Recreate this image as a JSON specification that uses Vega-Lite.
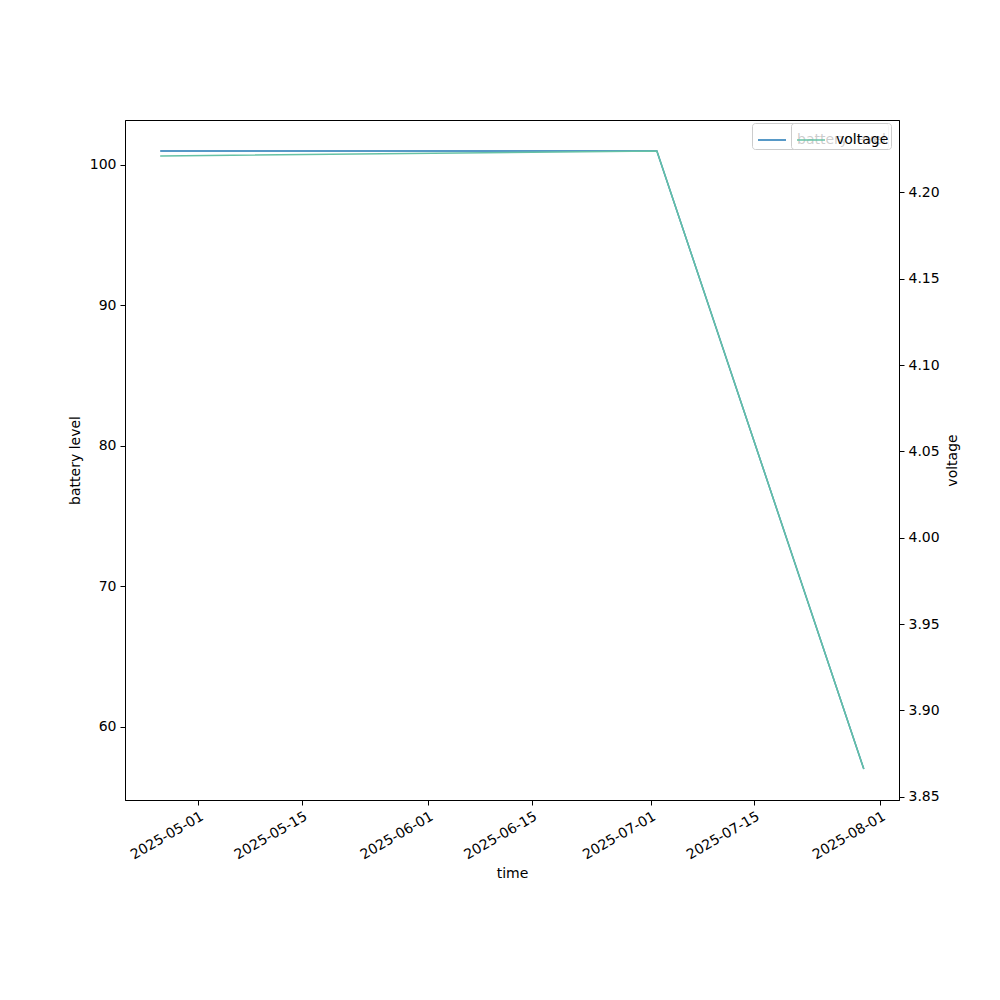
{
  "$schema": "https://vega.github.io/schema/vega-lite/v6.json",
  "width": 774,
  "height": 680,
  "autosize": {"type": "none"},
  "padding": {"left": 125, "top": 120, "right": 101, "bottom": 200},
  "background": "white",
  "config": {
    "font": "DejaVu Sans",
    "view": {"stroke": "black", "strokeWidth": 1},
    "axis": {
      "grid": false,
      "domainColor": "black",
      "tickColor": "black",
      "labelColor": "black",
      "titleColor": "black",
      "labelFont": "DejaVu Sans",
      "titleFont": "DejaVu Sans",
      "labelFontSize": 14,
      "titleFontSize": 14,
      "titleFontWeight": "normal",
      "tickSize": 5,
      "labelPadding": 4
    },
    "legend": {
      "labelFont": "DejaVu Sans",
      "labelFontSize": 14,
      "labelColor": "black"
    }
  },
  "data": {
    "values": [
      {"time": "2025-04-25T20:00:00", "battery": 101, "voltage": 4.221},
      {"time": "2025-07-01T20:00:00", "battery": 101, "voltage": 4.224},
      {"time": "2025-07-29T18:00:00", "battery": 57, "voltage": 3.866}
    ]
  },
  "encoding": {
    "x": {
      "field": "time",
      "type": "temporal",
      "scale": {
        "domain": [
          {"year": 2025, "month": 4, "date": 21, "hours": 2, "minutes": 6},
          {"year": 2025, "month": 8, "date": 3, "hours": 11, "minutes": 54}
        ]
      },
      "axis": {
        "title": "time",
        "format": "%Y-%m-%d",
        "labelAngle": -30,
        "labelAlign": "right",
        "labelBaseline": "top",
        "titlePadding": 5,
        "values": [
          {"year": 2025, "month": 5, "date": 1},
          {"year": 2025, "month": 5, "date": 15},
          {"year": 2025, "month": 6, "date": 1},
          {"year": 2025, "month": 6, "date": 15},
          {"year": 2025, "month": 7, "date": 1},
          {"year": 2025, "month": 7, "date": 15},
          {"year": 2025, "month": 8, "date": 1}
        ]
      }
    }
  },
  "layer": [
    {
      "mark": {"type": "line", "strokeWidth": 1.5},
      "encoding": {
        "y": {
          "field": "battery",
          "type": "quantitative",
          "scale": {"domain": [54.8, 103.2], "nice": false, "zero": false},
          "axis": {"title": "battery level", "orient": "left", "values": [60, 70, 80, 90, 100], "titlePadding": 7}
        },
        "color": {
          "datum": "battery level",
          "scale": {"range": ["#1f77b4"]},
          "legend": {
            "title": null,
            "orient": "none",
            "legendX": 627,
            "legendY": 3,
            "symbolType": "stroke",
            "symbolSize": 784,
            "symbolStrokeWidth": 1.5,
            "symbolOffset": 3,
            "labelOffset": 10,
            "fillColor": "rgba(255,255,255,0.8)",
            "strokeColor": "#cccccc",
            "cornerRadius": 3,
            "padding": 2
          }
        }
      }
    },
    {
      "mark": {"type": "line", "strokeWidth": 1.5},
      "encoding": {
        "y": {
          "field": "voltage",
          "type": "quantitative",
          "scale": {"domain": [3.8481, 4.2419], "nice": false, "zero": false},
          "axis": {"title": "voltage", "orient": "right", "format": ".2f", "values": [3.85, 3.9, 3.95, 4.0, 4.05, 4.1, 4.15, 4.2], "titleAngle": 270, "titlePadding": 20}
        },
        "color": {
          "datum": "voltage",
          "scale": {"range": ["#66c2a5"]},
          "legend": {
            "title": null,
            "orient": "none",
            "legendX": 666,
            "legendY": 3,
            "symbolType": "stroke",
            "symbolSize": 784,
            "symbolStrokeWidth": 1.5,
            "symbolOffset": 3,
            "labelOffset": 10,
            "fillColor": "rgba(255,255,255,0.8)",
            "strokeColor": "#cccccc",
            "cornerRadius": 3,
            "padding": 2
          }
        }
      }
    }
  ],
  "resolve": {"scale": {"y": "independent", "color": "independent"}}
}
